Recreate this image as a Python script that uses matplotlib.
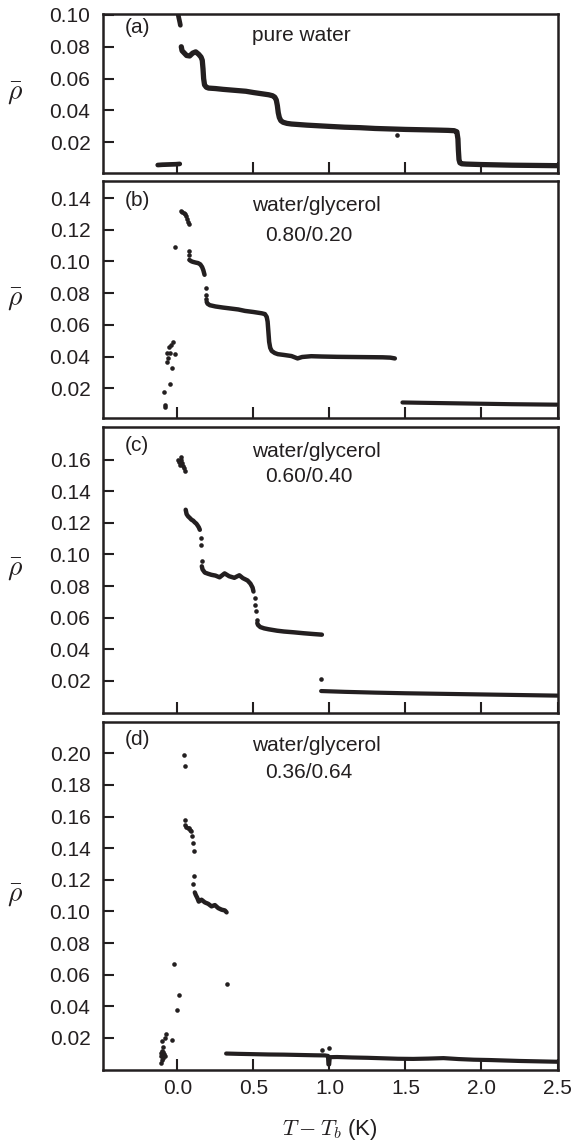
import matplotlib
matplotlib.use('Agg')
import matplotlib.pyplot as plt
from matplotlib.ticker import FormatStrFormatter

plt.rcParams['font.family'] = ['Liberation Sans', 'DejaVu Sans']
plt.rcParams['mathtext.fontset'] = 'cm'

# ---- panel (a): pure water ----
a_low_x = [-0.13, -0.10, -0.07, -0.04, -0.01, 0.015]
a_low_y = [0.0056, 0.0058, 0.0059, 0.0060, 0.0061, 0.0063]
a_top_x = [0.005, 0.008, 0.012, 0.016, 0.019]
a_top_y = [0.1000, 0.0985, 0.0968, 0.0950, 0.0935]
a_main_x = [0.025, 0.03, 0.045, 0.06, 0.08, 0.10, 0.12, 0.14, 0.155, 0.163, 0.168, 0.172,
            0.178, 0.19, 0.205, 0.25, 0.30, 0.35, 0.40, 0.45, 0.50, 0.55, 0.60, 0.625,
            0.64, 0.65, 0.657, 0.663, 0.67, 0.68, 0.695, 0.72, 0.75, 0.85, 1.0, 1.1, 1.2,
            1.3, 1.4, 1.5, 1.6, 1.7, 1.78, 1.82, 1.838, 1.845, 1.848, 1.852, 1.858, 1.87,
            1.9, 2.0, 2.1, 2.2, 2.3, 2.4, 2.5]
a_main_y = [0.0800, 0.0775, 0.0760, 0.0745, 0.0742, 0.0760, 0.0768, 0.0752, 0.0735, 0.0715,
            0.0660, 0.0600, 0.0560, 0.0545, 0.0540, 0.0537, 0.0532, 0.0528, 0.0524, 0.0520,
            0.0512, 0.0505, 0.0498, 0.0492, 0.0483, 0.0465, 0.0430, 0.0385, 0.0355, 0.0335,
            0.0325, 0.0318, 0.0314, 0.0307, 0.0299, 0.0294, 0.0291, 0.0286, 0.0283, 0.0280,
            0.0278, 0.0276, 0.0274, 0.0272, 0.0265, 0.0220, 0.0150, 0.0090, 0.0070, 0.0064,
            0.0062, 0.0059, 0.0057, 0.0055, 0.0054, 0.0053, 0.0052]
a_dot_x = [1.446]
a_dot_y = [0.0245]

# ---- panel (b): water/glycerol 0.80/0.20 ----
b_dot_x = [-0.091, -0.084, -0.084, -0.050, -0.038, -0.068, -0.060, -0.070, -0.047, -0.014,
           -0.032, -0.053, -0.043, -0.018, 0.021, 0.030, 0.040, 0.048, 0.055, 0.062, 0.068,
           0.073, 0.076, 0.077, 0.185, 0.187, 0.189]
b_dot_y = [0.0175, 0.0092, 0.0084, 0.0227, 0.0329, 0.0367, 0.0388, 0.0420, 0.0424, 0.0413,
           0.0493, 0.0462, 0.0470, 0.1090, 0.1318, 0.1312, 0.1305, 0.1298, 0.1290, 0.1270,
           0.1250, 0.1234, 0.1068, 0.1042, 0.0831, 0.0790, 0.0765]
b_up_x = [0.078, 0.09, 0.10, 0.12, 0.135, 0.15, 0.162, 0.170, 0.178]
b_up_y = [0.1010, 0.1002, 0.0998, 0.0993, 0.0990, 0.0982, 0.0965, 0.0945, 0.0916]
b_mid_x = [0.192, 0.198, 0.213, 0.25, 0.30, 0.334, 0.40, 0.444, 0.50, 0.554, 0.575, 0.587,
           0.593, 0.598, 0.603, 0.610, 0.620, 0.640, 0.660, 0.70, 0.75, 0.79, 0.82, 0.88,
           0.95, 1.05, 1.15, 1.25, 1.35, 1.40, 1.43]
b_mid_y = [0.0745, 0.0733, 0.0724, 0.0716, 0.0709, 0.0705, 0.0697, 0.0688, 0.0681, 0.0673,
           0.0668, 0.0650, 0.0620, 0.0557, 0.0493, 0.0455, 0.0435, 0.0422, 0.0415, 0.0410,
           0.0403, 0.0388, 0.0397, 0.0402, 0.0400, 0.0398, 0.0397, 0.0396, 0.0395, 0.0393,
           0.0388]
b_right_x = [1.48, 1.6, 1.8, 2.0, 2.2, 2.4, 2.5]
b_right_y = [0.0110, 0.0108, 0.0105, 0.0102, 0.0099, 0.0097, 0.0096]

# ---- panel (c): water/glycerol 0.60/0.40 ----
c_dot_x = [0.003, 0.010, 0.015, 0.020, 0.026, 0.030, 0.036, 0.042, 0.048, 0.154, 0.154,
           0.158, 0.507, 0.513, 0.518, 0.520, 0.946]
c_dot_y = [0.1600, 0.1585, 0.1568, 0.1595, 0.1615, 0.1580, 0.1560, 0.1545, 0.1530, 0.1107,
           0.1057, 0.0960, 0.0724, 0.0682, 0.0640, 0.0587, 0.0210]
c_up_x = [0.054, 0.060, 0.070, 0.080, 0.092, 0.103, 0.114, 0.124, 0.132, 0.140, 0.147]
c_up_y = [0.1283, 0.1255, 0.1241, 0.1232, 0.1220, 0.1214, 0.1203, 0.1195, 0.1184, 0.1172,
          0.1156]
c_mid_x = [0.160, 0.165, 0.18, 0.20, 0.223, 0.25, 0.277, 0.29, 0.31, 0.34, 0.374, 0.39,
           0.407, 0.43, 0.461, 0.48, 0.494, 0.500]
c_mid_y = [0.0925, 0.0905, 0.0885, 0.0878, 0.0871, 0.0866, 0.0855, 0.0865, 0.0880, 0.0862,
           0.0852, 0.0860, 0.0868, 0.0850, 0.0835, 0.0815, 0.0790, 0.0765]
c_low_x = [0.525, 0.53, 0.545, 0.57, 0.60, 0.656, 0.70, 0.764, 0.83, 0.894, 0.95]
c_low_y = [0.0565, 0.0553, 0.0540, 0.0532, 0.0526, 0.0517, 0.0512, 0.0507, 0.0501, 0.0496,
           0.0492]
c_right_x = [0.945, 1.1, 1.3, 1.5, 1.7, 1.9, 2.1, 2.3, 2.5]
c_right_y = [0.0135, 0.0130, 0.0125, 0.0121, 0.0118, 0.0115, 0.0112, 0.0109, 0.0106]

# ---- panel (d): water/glycerol 0.36/0.64 ----
d_dot_x = [-0.111, -0.106, -0.100, -0.096, -0.110, -0.089, -0.085, -0.104, -0.100, -0.084,
           -0.078, -0.034, -0.098, -0.092, -0.025, 0.010, -0.005, 0.043, 0.048, 0.048, 0.051,
           0.059, 0.066, 0.074, 0.080, 0.087, 0.096, 0.102, 0.107, 0.107, 0.105, 0.329,
           0.951, 1.000]
d_dot_y = [0.0105, 0.0042, 0.0063, 0.0074, 0.0085, 0.0095, 0.0085, 0.0120, 0.0179, 0.0200,
           0.0227, 0.0185, 0.0140, 0.0110, 0.0667, 0.0474, 0.0374, 0.1990, 0.1920, 0.1579,
           0.1547, 0.1533, 0.1530, 0.1527, 0.1515, 0.1507, 0.1480, 0.1432, 0.1379, 0.1221,
           0.1175, 0.0541, 0.0122, 0.0133]
d_mid_x = [0.114, 0.120, 0.131, 0.140, 0.158, 0.180, 0.202, 0.224, 0.246, 0.268, 0.290,
           0.312, 0.323]
d_mid_y = [0.1120, 0.1105, 0.1084, 0.1062, 0.1074, 0.1057, 0.1048, 0.1032, 0.1040, 0.1021,
           0.1011, 0.1006, 0.0994]
d_right_x = [0.32, 0.40, 0.50, 0.60, 0.70, 0.80, 0.90, 0.97, 0.990, 0.993, 0.998, 1.002,
             1.05, 1.15, 1.25, 1.35, 1.45, 1.55, 1.65, 1.75, 1.85, 1.95, 2.05, 2.15, 2.25,
             2.35, 2.5]
d_right_y = [0.0101, 0.0099, 0.0097, 0.0095, 0.0094, 0.0092, 0.0090, 0.0089, 0.0086, 0.0032,
             0.0032, 0.0078, 0.0079, 0.0076, 0.0074, 0.0071, 0.0068, 0.0067, 0.0069, 0.0072,
             0.0066, 0.0062, 0.0060, 0.0057, 0.0054, 0.0052, 0.0049]

x_ticks = [0.0, 0.5, 1.0, 1.5, 2.0, 2.5]
ink = '#231f20'

fig = plt.figure(figsize=(5.72, 11.46), dpi=100)


def make_axes(top, bottom):
    # pixel frame -> figure fraction
    return fig.add_axes([103 / 572, 1 - bottom / 1146, 454.5 / 572, (bottom - top) / 1146])


def band(ax, x, y, lw=3.4):
    ax.plot(x, y, '-', color=ink, lw=lw, solid_capstyle='round', solid_joinstyle='round')


def dots(ax, x, y):
    ax.plot(x, y, 'o', color=ink, ms=3.3, mew=0)


def style(ax, ylim, yticks, tag, tag_off, lines, line_offs, bottom=False):
    ax.set_xlim(-0.49, 2.5)
    ax.set_ylim(*ylim)
    ax.set_xticks(x_ticks)
    ax.set_yticks(yticks)
    ax.yaxis.set_major_formatter(FormatStrFormatter('%.2f'))
    ax.tick_params(direction='in', length=8, width=1.5, labelsize=15, colors=ink)
    ax.tick_params(axis='y', pad=9)
    ax.tick_params(axis='x', pad=7, labelbottom=bottom)
    for s in ax.spines.values():
        s.set_linewidth(1.8)
        s.set_color(ink)
    ax.set_ylabel(r'$\bar{\rho}$', rotation=0, fontsize=20, ha='center', va='center', color=ink)
    ax.yaxis.set_label_coords(-0.194, 0.5)
    ax.annotate(tag, xy=(0, 1), xycoords='axes fraction', xytext=(22, -tag_off),
                textcoords='offset pixels', va='top', fontsize=15, color=ink)
    for txt, (dx, dy) in zip(lines, line_offs):
        ax.annotate(txt, xy=(0, 1), xycoords='axes fraction', xytext=(dx, -dy),
                    textcoords='offset pixels', va='top', fontsize=15, color=ink)


ax_a = make_axes(14, 173.3)
band(ax_a, a_low_x, a_low_y)
band(ax_a, a_top_x, a_top_y)
band(ax_a, a_main_x, a_main_y, lw=3.8)
dots(ax_a, a_dot_x, a_dot_y)
style(ax_a, (0.0004, 0.1006), [0.02, 0.04, 0.06, 0.08, 0.10], '(a)', 4,
      ['pure water'], [(149, 12)])

ax_b = make_axes(180.7, 418.3)
dots(ax_b, b_dot_x, b_dot_y)
band(ax_b, b_up_x, b_up_y, lw=3.2)
band(ax_b, b_mid_x, b_mid_y, lw=3.2)
band(ax_b, b_right_x, b_right_y, lw=3.0)
style(ax_b, (0.001, 0.151), [0.02, 0.04, 0.06, 0.08, 0.10, 0.12, 0.14], '(b)', 10,
      ['water/glycerol', '0.80/0.20'], [(149, 15), (162, 45)])

ax_c = make_axes(427.3, 713)
dots(ax_c, c_dot_x, c_dot_y)
band(ax_c, c_up_x, c_up_y, lw=3.2)
band(ax_c, c_mid_x, c_mid_y, lw=3.2)
band(ax_c, c_low_x, c_low_y, lw=3.2)
band(ax_c, c_right_x, c_right_y, lw=3.0)
style(ax_c, (-0.0004, 0.1805), [0.02, 0.04, 0.06, 0.08, 0.10, 0.12, 0.14, 0.16], '(c)', 9,
      ['water/glycerol', '0.60/0.40'], [(149, 15), (162, 40)])

ax_d = make_axes(721.7, 1069.5)
dots(ax_d, d_dot_x, d_dot_y)
band(ax_d, d_mid_x, d_mid_y, lw=3.2)
band(ax_d, d_right_x, d_right_y, lw=3.0)
style(ax_d, (0.0, 0.22), [0.02, 0.04, 0.06, 0.08, 0.10, 0.12, 0.14, 0.16, 0.18, 0.20],
      '(d)', 8, ['water/glycerol', '0.36/0.64'], [(149, 14), (162, 41)], bottom=True)
ax_d.xaxis.set_major_formatter(FormatStrFormatter('%.1f'))
ax_d.set_xlabel(r'$T - T_b$ (K)', fontsize=16, color=ink, va='center')
# centre of the axis title sits about 60 px below the frame
ax_d.xaxis.set_label_coords(0.5, -60 / 347.8)

fig.savefig('out.png', dpi=100)
